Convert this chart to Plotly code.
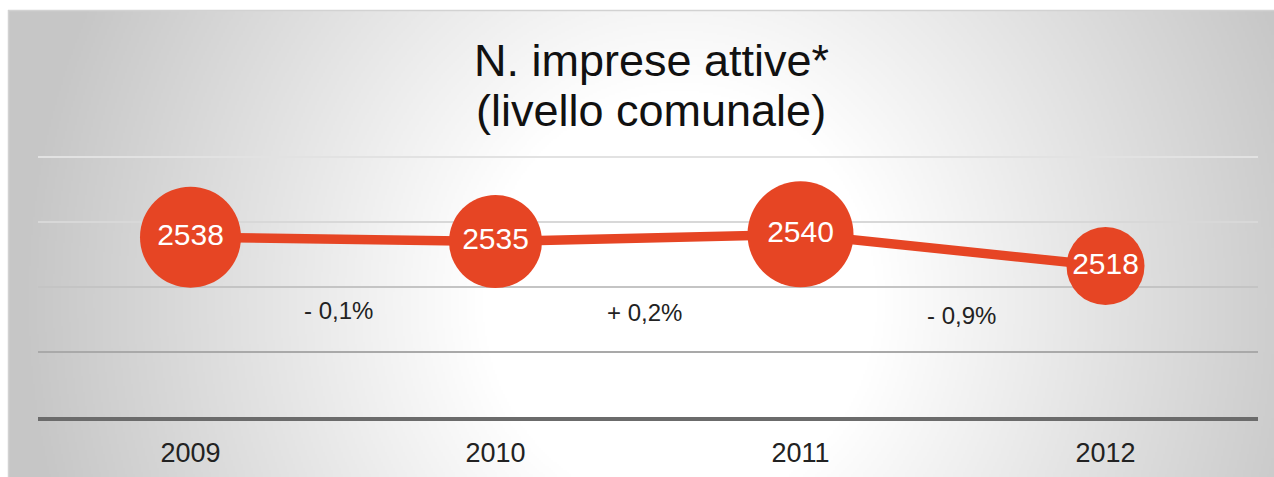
import base64
import struct
import zlib

import numpy as np
import plotly.graph_objects as go

# ---------------- data ----------------
years = ["2009", "2010", "2011", "2012"]
imprese = [2538, 2535, 2540, 2518]
variazioni = ["- 0,1%", "+ 0,2%", "- 0,9%"]
title_line1 = "N. imprese attive*"
title_line2 = "(livello comunale)"

# ---------------- style ----------------
W, H = 1274, 477
ML, MR, MT, MB = 38, 16, 153, 60
PW, PH = W - ML - MR, H - MT - MB
PX_PER_UNIT = 260 / 180
Y_MIN, Y_STEP = 2413.5, 45
Y_MAX = Y_MIN + PH / PX_PER_UNIT
grid_colors = ["#a9a9a9", "#c4c4c4", "#d8d8d8", "#e2e2e2"]  # bottom -> top
marker_sizes = [101, 93, 106, 78]
pct_label_y = [2487.5, 2486.0, 2484.0]
pct_label_xshift = [-5, -4, 8]
RED = "#E64524"
TXT = "#222222"
FONT = "Liberation Sans, Arial, sans-serif"


def px_to_paper_x(px):
    return (px - ML) / PW


def px_to_paper_y(py):
    return (H - MB - py) / PH


# radial-ish gradient background as an inline PNG
def gradient_png(w, h, scale=0.5):
    gw, gh = int(w * scale), int(h * scale)
    xs = (np.arange(gw) + 0.5) / scale + 8
    ys = (np.arange(gh) + 0.5) / scale + 10
    X, Y = np.meshgrid(xs, ys)
    t = np.sqrt(((X - 680) / 660) ** 2 + ((Y - 300) / 700) ** 2)
    k = np.clip((t - 0.3) / 0.7, 0, 1)
    g = (255 - 57 * k).astype(np.uint8)
    rgb = np.stack([g, g, g], axis=-1)
    raw = b"".join(b"\x00" + rgb[r].tobytes() for r in range(gh))

    def chunk(tag, data):
        c = struct.pack(">I", len(data)) + tag + data
        return c + struct.pack(">I", zlib.crc32(tag + data) & 0xFFFFFFFF)

    png = b"\x89PNG\r\n\x1a\n"
    png += chunk(b"IHDR", struct.pack(">IIBBBBB", gw, gh, 8, 2, 0, 0, 0))
    png += chunk(b"IDAT", zlib.compress(raw, 9))
    png += chunk(b"IEND", b"")
    return "data:image/png;base64," + base64.b64encode(png).decode()


BG_X0, BG_Y0 = 8, 10
bg_src = gradient_png(W - BG_X0, H - BG_Y0)

fig = go.Figure()
fig.add_trace(
    go.Scatter(
        x=years,
        y=imprese,
        mode="lines+markers+text",
        line=dict(color=RED, width=9.5),
        marker=dict(color=RED, size=marker_sizes, line=dict(width=0), opacity=1),
        text=[str(v) for v in imprese],
        textposition="middle center",
        textfont=dict(color="white", size=30, family=FONT),
        hoverinfo="skip",
        cliponaxis=False,
        showlegend=False,
    )
)

annotations = [
    dict(
        text=title_line1, xref="paper", yref="paper",
        x=px_to_paper_x(651), y=px_to_paper_y(60),
        xanchor="center", yanchor="middle", showarrow=False,
        font=dict(size=45, color="#111111", family=FONT),
    ),
    dict(
        text=title_line2, xref="paper", yref="paper",
        x=px_to_paper_x(651), y=px_to_paper_y(110),
        xanchor="center", yanchor="middle", showarrow=False,
        font=dict(size=45, color="#111111", family=FONT),
    ),
]
for i, lab in enumerate(variazioni):
    annotations.append(
        dict(
            text=lab, x=i + 0.5, y=pct_label_y[i], xref="x", yref="y",
            xshift=pct_label_xshift[i], showarrow=False,
            xanchor="center", yanchor="middle",
            font=dict(size=24, color=TXT, family=FONT),
        )
    )

shapes = [
    dict(
        type="line", xref="paper", yref="paper",
        x0=px_to_paper_x(BG_X0), x1=px_to_paper_x(W),
        y0=px_to_paper_y(BG_Y0 + 0.5), y1=px_to_paper_y(BG_Y0 + 0.5),
        line=dict(color="#d2d2d2", width=1.5), layer="below",
    ),
    dict(
        type="line", xref="paper", yref="paper",
        x0=px_to_paper_x(BG_X0 + 0.5), x1=px_to_paper_x(BG_X0 + 0.5),
        y0=px_to_paper_y(BG_Y0), y1=px_to_paper_y(H),
        line=dict(color="#d2d2d2", width=1.5), layer="below",
    ),
]
# horizontal grid lines at the y-axis tick values, darker towards the bottom
for k, col in enumerate(grid_colors, start=1):
    gv = Y_MIN + k * Y_STEP
    shapes.append(
        dict(
            type="line", xref="paper", yref="y", x0=0, x1=1, y0=gv, y1=gv,
            line=dict(color=col, width=2), layer="below",
        )
    )

fig.update_layout(
    width=W,
    height=H,
    autosize=False,
    margin=dict(l=ML, r=MR, t=MT, b=MB, pad=0, autoexpand=False),
    paper_bgcolor="white",
    plot_bgcolor="rgba(0,0,0,0)",
    annotations=annotations,
    images=[
        dict(
            source=bg_src, xref="paper", yref="paper",
            x=px_to_paper_x(BG_X0), y=px_to_paper_y(BG_Y0),
            sizex=(W - BG_X0) / PW, sizey=(H - BG_Y0) / PH,
            xanchor="left", yanchor="top", sizing="stretch",
            layer="below",
        )
    ],
    shapes=shapes,
    xaxis=dict(
        type="category",
        range=[-0.5, 3.5],
        showgrid=False,
        zeroline=False,
        showline=True,
        linecolor="#6b6b6b",
        linewidth=4,
        ticks="",
        ticklabelstandoff=9,
        tickfont=dict(size=27, color=TXT, family=FONT),
        automargin=False,
        fixedrange=True,
    ),
    yaxis=dict(
        range=[Y_MIN, Y_MAX],
        tickvals=[Y_MIN + k * Y_STEP for k in range(1, 5)],
        showticklabels=False,
        showgrid=False,
        zeroline=False,
        showline=False,
        ticks="",
        automargin=False,
        fixedrange=True,
    ),
)

fig.write_html(
    "out.html",
    config=dict(displayModeBar=False),
    post_script="document.body.style.margin='0';document.body.style.overflow='hidden';",
)
